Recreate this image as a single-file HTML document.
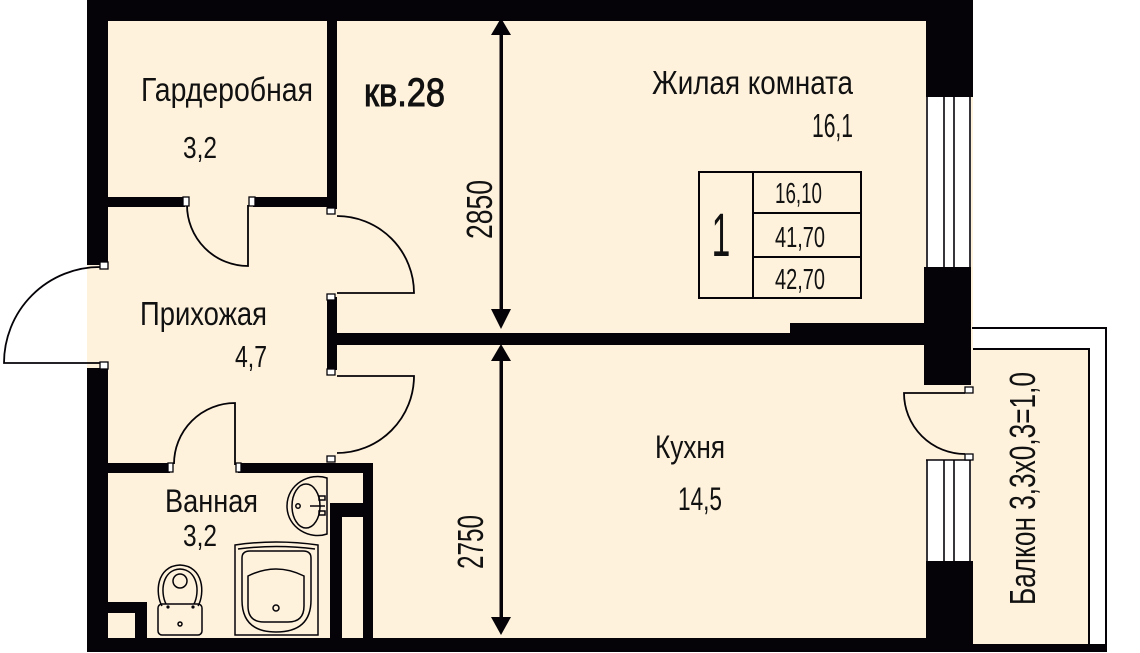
<!DOCTYPE html>
<html>
<head>
<meta charset="utf-8">
<style>
  html, body { margin: 0; padding: 0; background: #ffffff; }
  body { width: 1140px; height: 653px; overflow: hidden; }
  svg { display: block; }
  text { font-family: "Liberation Sans", "Noto Sans CJK SC", sans-serif; fill: #111; }
</style>
</head>
<body>
<svg width="1140" height="653" viewBox="0 0 1140 653" xmlns="http://www.w3.org/2000/svg">
  <rect x="0" y="0" width="1140" height="653" fill="#ffffff"/>

  <!-- interior floor -->
  <rect x="87" y="0" width="886" height="652" fill="#fef2dc"/>

  <!-- balcony -->
  <path d="M972,328 H1106 V652" fill="none" stroke="#050308" stroke-width="2"/>
  <rect x="973" y="349" width="116" height="296" fill="#fef2dc"/>
  <path d="M973,349 H1089 V645" fill="none" stroke="#050308" stroke-width="2"/>

  <!-- windows -->
  <rect x="926" y="97" width="45" height="170" fill="#ffffff"/>
  <g stroke="#050308" stroke-width="1.6">
    <line x1="927" y1="97" x2="927" y2="267"/>
    <line x1="944" y1="97" x2="944" y2="267"/>
    <line x1="954" y1="97" x2="954" y2="267"/>
    <line x1="970" y1="97" x2="970" y2="267"/>
  </g>
  <rect x="926" y="460" width="45" height="101" fill="#ffffff"/>
  <g stroke="#050308" stroke-width="1.6">
    <line x1="926" y1="460" x2="971" y2="460"/>
    <line x1="927" y1="460" x2="927" y2="561"/>
    <line x1="944" y1="460" x2="944" y2="561"/>
    <line x1="954" y1="460" x2="954" y2="561"/>
    <line x1="970" y1="460" x2="970" y2="561"/>
  </g>

  <!-- walls -->
  <g fill="#050308">
    <rect x="87" y="0" width="886" height="21"/>
    <rect x="87" y="0" width="21" height="265"/>
    <rect x="87" y="368" width="21" height="284"/>
    <rect x="87" y="638" width="886" height="14"/>
    <rect x="973" y="644" width="134" height="8"/>
    <rect x="926" y="0" width="47" height="97"/>
    <rect x="924" y="267" width="47" height="118"/>
    <rect x="926" y="561" width="47" height="91"/>
    <rect x="108" y="197" width="77" height="10"/>
    <rect x="253" y="197" width="84" height="10"/>
    <rect x="327" y="21" width="10" height="188"/>
    <rect x="327" y="297" width="10" height="73"/>
    <rect x="337" y="333" width="589" height="12"/>
    <rect x="790" y="323" width="136" height="22"/>
    <rect x="108" y="463" width="62" height="10"/>
    <rect x="238" y="463" width="135" height="10"/>
    <rect x="363" y="463" width="10" height="176"/>
    <rect x="330" y="503" width="33" height="14"/>
    <rect x="330" y="503" width="12" height="136"/>
    <rect x="108" y="602" width="39" height="11"/>
    <rect x="135" y="602" width="12" height="37"/>
  </g>

  <!-- doors -->
  <g fill="none" stroke="#050308" stroke-width="1.8">
    <path d="M100,267 A96,96 0 0 0 4,363 L100,363"/>
    <path d="M248,205 V266 A61,61 0 0 1 187,205"/>
    <path d="M337,293 H414 A77,77 0 0 0 337,216"/>
    <path d="M337,376 H414 A77,77 0 0 1 337,453"/>
    <path d="M235,465 V403 A61,61 0 0 0 174,464"/>
    <path d="M965,393 H904 A61,61 0 0 0 965,454"/>
  </g>

  <!-- door jambs -->
  <g fill="#ffffff" stroke="#050308" stroke-width="1.3">
    <rect x="100" y="262" width="8" height="7"/>
    <rect x="100" y="362" width="8" height="7"/>
    <rect x="183" y="197" width="6" height="9"/>
    <rect x="249" y="197" width="6" height="9"/>
    <rect x="327" y="208" width="8" height="6"/>
    <rect x="327" y="294" width="8" height="6"/>
    <rect x="327" y="369" width="8" height="6"/>
    <rect x="327" y="456" width="8" height="6"/>
    <rect x="168" y="463" width="5" height="9"/>
    <rect x="236" y="463" width="5" height="9"/>
    <rect x="965" y="387" width="8" height="6"/>
    <rect x="965" y="454" width="8" height="6"/>
  </g>

  <!-- sink -->
  <g fill="none" stroke="#050308" stroke-width="1.5">
    <path d="M327,478 L327,534 C310,540 287,528 287,506 C287,484 310,472 327,478 Z"/>
    <ellipse cx="306" cy="506" rx="14" ry="22"/>
    <line x1="310" y1="506" x2="325" y2="506"/>
    <rect x="319" y="496" width="6" height="4"/>
    <rect x="319" y="511" width="6" height="4"/>
    <circle cx="298" cy="506" r="2.2"/>
  </g>

  <!-- bathtub -->
  <g fill="none" stroke="#050308" stroke-width="1.5">
    <path d="M235,545 Q276,539 318,545 L318,635 L235,635 Z"/>
    <path d="M238,549 Q276,544 315,549"/>
    <path d="M242,558 Q242,551 250,551 L303,551 Q311,551 311,558 L311,600 Q311,632 276,632 Q242,632 242,600 Z"/>
    <path d="M248,576 Q276,562 304,576 L304,606 Q304,622 288,622 L264,622 Q248,622 248,606 Z"/>
    <circle cx="276" cy="608" r="3"/>
  </g>

  <!-- toilet -->
  <g fill="none" stroke="#050308" stroke-width="1.5">
    <path d="M162,606 C155,594 156,566 180,565 C204,566 205,594 198,606"/>
    <path d="M166,604 C160,592 162,570 180,569 C198,570 200,592 194,604"/>
    <circle cx="180" cy="581" r="7"/>
    <rect x="158" y="604" width="44" height="31" rx="4"/>
    <circle cx="180" cy="624" r="2"/>
  </g>
  <circle cx="168" cy="607" r="1.6" fill="#050308"/>
  <circle cx="193" cy="607" r="1.6" fill="#050308"/>

  <!-- dimension arrows -->
  <g fill="#050308">
    <rect x="499.5" y="30" width="3.5" height="282"/>
    <path d="M501,18 L491,35 L511,35 Z"/>
    <path d="M501,329 L491,309 L511,309 Z"/>
    <rect x="499.5" y="355" width="3.5" height="266"/>
    <path d="M501,344 L491,361 L511,361 Z"/>
    <path d="M501,635 L491,617 L511,617 Z"/>
  </g>

  <!-- table -->
  <g fill="none" stroke="#050308" stroke-width="2">
    <rect x="699" y="172" width="162" height="126"/>
    <line x1="753" y1="172" x2="753" y2="298"/>
    <line x1="753" y1="213" x2="861" y2="213"/>
    <line x1="753" y1="257" x2="861" y2="257"/>
  </g>

  <!-- labels -->
  <text x="141" y="101" font-size="33" textLength="172" lengthAdjust="spacingAndGlyphs">Гардеробная</text>
  <text x="183" y="158" font-size="31" textLength="34" lengthAdjust="spacingAndGlyphs">3,2</text>
  <text x="364" y="106" font-size="40" stroke="#111" stroke-width="1" textLength="81" lengthAdjust="spacingAndGlyphs">кв.28</text>
  <text x="652" y="94" font-size="33" textLength="201" lengthAdjust="spacingAndGlyphs">Жилая комната</text>
  <text x="812" y="137" font-size="33" textLength="41" lengthAdjust="spacingAndGlyphs">16,1</text>
  <text x="140" y="325" font-size="33" textLength="127" lengthAdjust="spacingAndGlyphs">Прихожая</text>
  <text x="235" y="367" font-size="31" textLength="32" lengthAdjust="spacingAndGlyphs">4,7</text>
  <text x="165" y="512" font-size="32" textLength="93" lengthAdjust="spacingAndGlyphs">Ванная</text>
  <text x="183" y="546" font-size="31" textLength="34" lengthAdjust="spacingAndGlyphs">3,2</text>
  <text x="655" y="458" font-size="32" textLength="70" lengthAdjust="spacingAndGlyphs">Кухня</text>
  <text x="678" y="510" font-size="32" textLength="44" lengthAdjust="spacingAndGlyphs">14,5</text>

  <text transform="translate(492,239) rotate(-90)" font-size="36" textLength="59" lengthAdjust="spacingAndGlyphs">2850</text>
  <text transform="translate(483,569) rotate(-90)" font-size="36" textLength="54" lengthAdjust="spacingAndGlyphs">2750</text>
  <text transform="translate(1035,605) rotate(-90)" font-size="36" textLength="233" lengthAdjust="spacingAndGlyphs">Балкон 3,3х0,3=1,0</text>

  <text x="775" y="203" font-size="29" textLength="47" lengthAdjust="spacingAndGlyphs">16,10</text>
  <text x="775" y="247" font-size="29" textLength="50" lengthAdjust="spacingAndGlyphs">41,70</text>
  <text x="775" y="289" font-size="29" textLength="50" lengthAdjust="spacingAndGlyphs">42,70</text>
  <text transform="translate(721,256) scale(0.55,1)" font-size="61" text-anchor="middle">1</text>
</svg>
</body>
</html>
